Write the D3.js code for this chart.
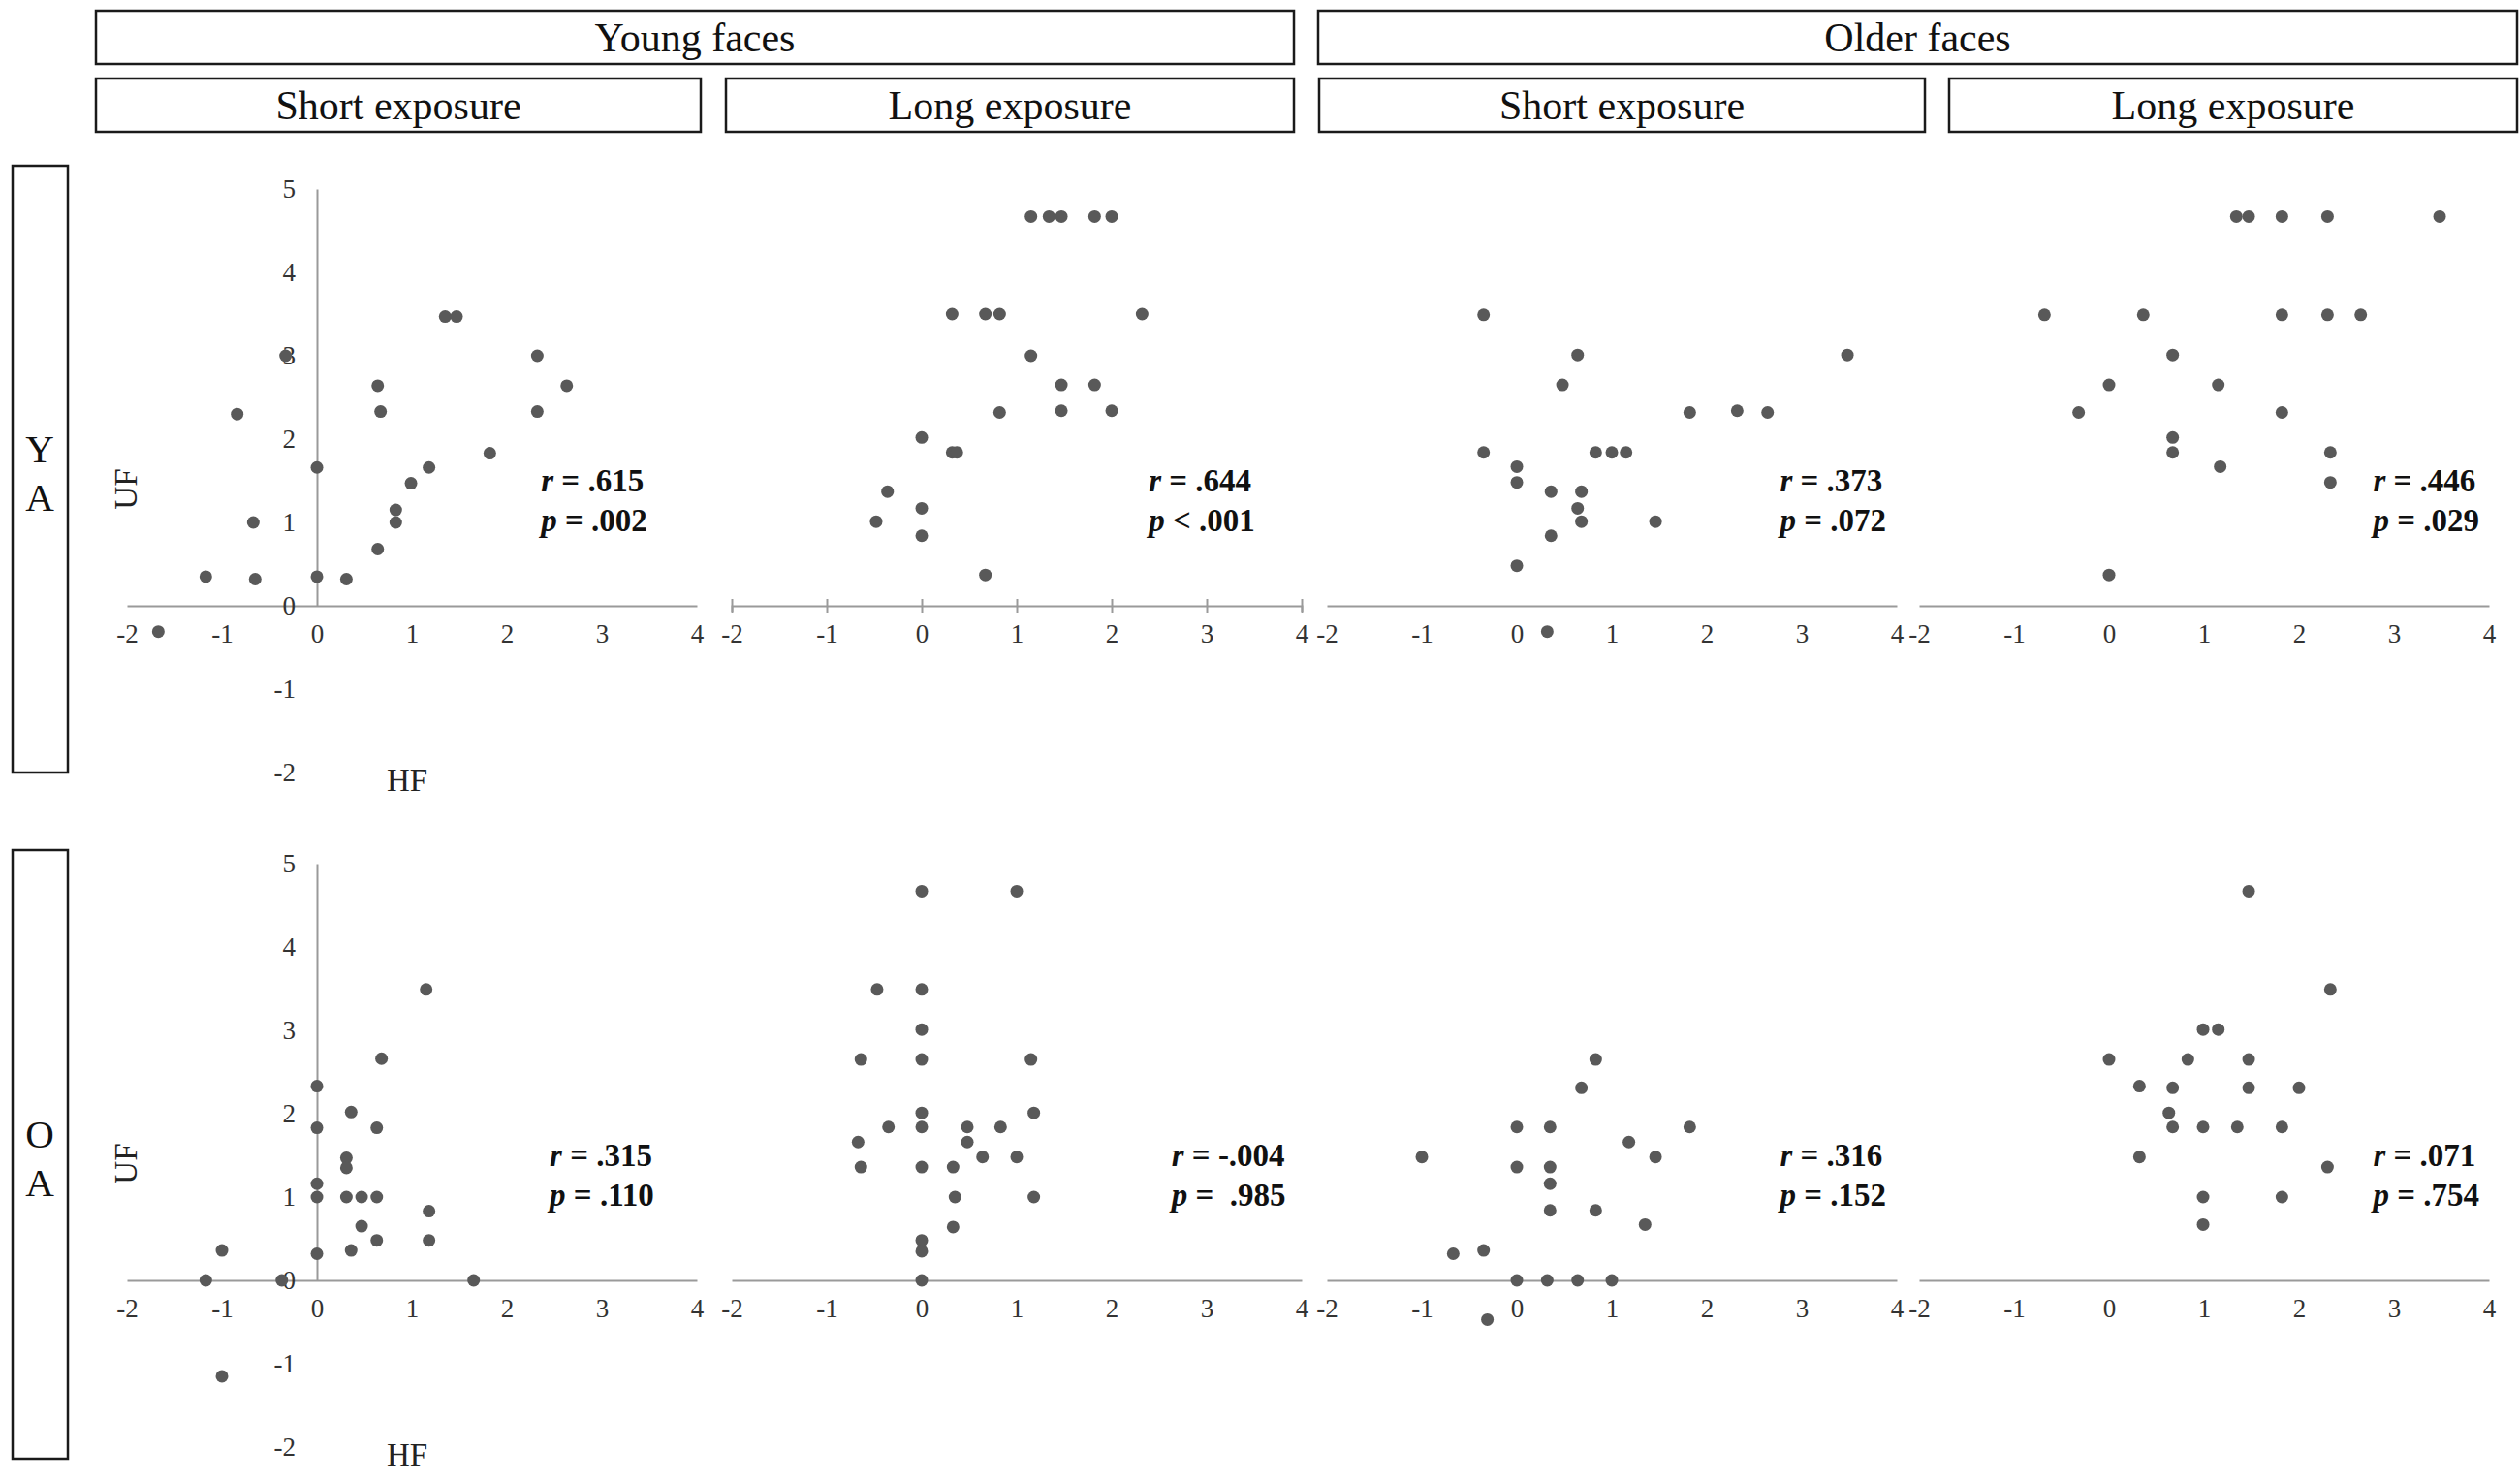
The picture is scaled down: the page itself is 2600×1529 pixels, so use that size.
<!DOCTYPE html>
<html>
<head>
<meta charset="utf-8">
<script src="https://cdn.jsdelivr.net/npm/d3@7"></script>
<style>
    body { margin: 0; background: #fff; }
    svg { display: block; }
</style>
</head>
<body>
<script>
// HF on the x axis, UF on the y axis
const xTicks = [-2, -1, 0, 1, 2, 3, 4];
const yTicks = [-2, -1, 0, 1, 2, 3, 4, 5];
const faceGroups = ["Young faces", "Older faces"];
const exposures = ["Short exposure", "Long exposure", "Short exposure", "Long exposure"];
const ageGroups = [["Y", "A"], ["O", "A"]];

// YA participants
const yaYoungShort = [[-1.67, -0.31], [-1.17, 0.35], [-0.65, 0.32], [-0.67, 1.0], [-0.84, 2.3], [-0.33, 3.0],
    [0, 1.66], [0, 0.35], [0.31, 0.32], [0.64, 0.68], [0.64, 2.64], [0.67, 2.33], [0.83, 1.15], [0.83, 1.0],
    [0.99, 1.47], [1.18, 1.66], [1.35, 3.47], [1.47, 3.47], [1.82, 1.83], [2.32, 3.0], [2.32, 2.33], [2.63, 2.64]];
const yaYoungLong = [[1.15, 4.67], [1.34, 4.67], [1.47, 4.67], [1.82, 4.67], [2.0, 4.67], [0.32, 3.5], [0.67, 3.5],
    [0.82, 3.5], [2.32, 3.5], [1.15, 3.0], [1.47, 2.65], [1.82, 2.65], [0.82, 2.32], [1.47, 2.34], [2.0, 2.34],
    [0, 2.02], [0.32, 1.84], [0.37, 1.84], [-0.36, 1.37], [0, 1.17], [-0.48, 1.01], [0, 0.84], [0.67, 0.37]];
const yaOlderShort = [[-0.35, 3.49], [0.64, 3.01], [0.48, 2.65], [3.48, 3.01], [1.82, 2.32], [2.32, 2.34], [2.64, 2.32],
    [-0.35, 1.84], [0.83, 1.84], [1.0, 1.84], [1.15, 1.84], [0, 1.67], [0, 1.48], [0.36, 1.37], [0.68, 1.37],
    [0.64, 1.17], [0.68, 1.01], [1.46, 1.01], [0.36, 0.84], [0, 0.48], [0.32, -0.31]];
const yaOlderLong = [[1.34, 4.67], [1.47, 4.67], [1.82, 4.67], [2.3, 4.67], [3.48, 4.67], [-0.68, 3.49], [0.36, 3.49],
    [1.82, 3.49], [2.3, 3.49], [2.65, 3.49], [0.67, 3.01], [0, 2.65], [1.15, 2.65], [-0.32, 2.32], [1.82, 2.32],
    [0.67, 2.02], [0.67, 1.84], [2.33, 1.84], [1.17, 1.67], [2.33, 1.48], [0, 0.37]];

// OA participants
const oaYoungShort = [[-1.0, 0.36], [-1.17, 0], [-0.37, 0], [-1.0, -1.15], [0, 2.33], [0, 1.83], [0, 1.16], [0, 1.0],
    [0, 0.32], [0.36, 2.02], [0.31, 1.47], [0.31, 1.35], [0.31, 1.0], [0.47, 1.0], [0.63, 1.0], [0.63, 1.83],
    [0.68, 2.66], [0.47, 0.65], [0.63, 0.48], [0.36, 0.36], [1.15, 3.49], [1.18, 0.83], [1.18, 0.48], [1.65, 0]];
const oaYoungLong = [[0, 4.67], [1.0, 4.67], [-0.47, 3.49], [0, 3.49], [0, 3.01], [-0.64, 2.65], [0, 2.65], [1.15, 2.65],
    [0, 2.01], [1.18, 2.01], [-0.35, 1.84], [0, 1.84], [0.48, 1.84], [0.83, 1.84], [-0.67, 1.66], [0.48, 1.66],
    [0.64, 1.48], [1.0, 1.48], [-0.64, 1.36], [0, 1.36], [0.33, 1.36], [0.35, 1.0], [1.18, 1.0], [0.33, 0.64],
    [0, 0.48], [0, 0.35], [0, 0]];
const oaOlderShort = [[0.83, 2.65], [0.68, 2.31], [0, 1.84], [0.35, 1.84], [1.82, 1.84], [1.18, 1.66], [-1.0, 1.48],
    [1.46, 1.48], [0, 1.36], [0.35, 1.36], [0.35, 1.16], [0.35, 0.84], [0.83, 0.84], [1.35, 0.67], [-0.67, 0.32],
    [-0.35, 0.36], [0, 0], [0.32, 0], [0.64, 0], [1.0, 0], [-0.31, -0.47]];
const oaOlderLong = [[1.47, 4.67], [2.33, 3.49], [0.99, 3.01], [1.15, 3.01], [0, 2.65], [0.83, 2.65], [1.47, 2.65],
    [0.32, 2.33], [0.67, 2.31], [1.47, 2.31], [2.0, 2.31], [0.63, 2.01], [0.67, 1.84], [0.99, 1.84], [1.35, 1.84],
    [1.82, 1.84], [0.32, 1.48], [2.3, 1.36], [0.99, 1.0], [1.82, 1.0], [0.99, 0.67]];

const rValues = [".615", ".644", ".373", ".446", ".315", "-.004", ".316", ".071"];
const pValues = ["= .002", "< .001", "= .072", "= .029", "= .110", "=  .985", "= .152", "= .754"];

const panels = [yaYoungShort, yaYoungLong, yaOlderShort, yaOlderLong,
    oaYoungShort, oaYoungLong, oaOlderShort, oaOlderLong];

// layout
const W = 2600, H = 1529;
const panelLeft = [131, 755, 1369, 1980];
const panelWidth = 588;
const rowAxis = [625, 1321];
const yUnit = 86;
const statX = [2.36, 2.39, 2.77, 2.78, 2.45, 2.63, 2.77, 2.78];
const groupBoxes = [[99, 1335], [1360, 2597]];
const exposureBoxes = [[99, 723], [749, 1335], [1361, 1986], [2011, 2597]];
const rowBoxes = [[171, 797], [877, 1505]];
const serif = "Liberation Serif, Times New Roman, serif";
const axisColor = "#9a9a9a";
const dotColor = "#595959";

const svg = d3.select("body").append("svg")
    .attr("width", W)
    .attr("height", H)
    .style("font-family", serif);

// header boxes
function headerBox(x0, x1, y0, y1, label) {
    svg.append("rect")
        .attr("x", x0).attr("y", y0)
        .attr("width", x1 - x0).attr("height", y1 - y0)
        .attr("fill", "none")
        .attr("stroke", "#1a1a1a")
        .attr("stroke-width", 2.5);
    svg.append("text")
        .attr("x", (x0 + x1) / 2)
        .attr("y", (y0 + y1) / 2 + 14)
        .attr("text-anchor", "middle")
        .attr("font-size", 42)
        .attr("fill", "#111")
        .text(label);
}

groupBoxes.forEach((b, i) => headerBox(b[0], b[1], 11, 66, faceGroups[i]));
exposureBoxes.forEach((b, i) => headerBox(b[0], b[1], 81, 136, exposures[i]));

// row labels
rowBoxes.forEach((b, i) => {
    svg.append("rect")
        .attr("x", 13).attr("y", b[0])
        .attr("width", 57).attr("height", b[1] - b[0])
        .attr("fill", "none")
        .attr("stroke", "#1a1a1a")
        .attr("stroke-width", 2.5);
    const mid = (b[0] + b[1]) / 2;
    ageGroups[i].forEach((letter, j) => {
        svg.append("text")
            .attr("x", 41)
            .attr("y", mid - 7 + j * 50)
            .attr("text-anchor", "middle")
            .attr("font-size", 41)
            .attr("fill", "#111")
            .text(letter);
    });
});

panels.forEach((pts, i) => {
    const row = Math.floor(i / 4), col = i % 4;
    const x = d3.scaleLinear().domain([-2, 4]).range([panelLeft[col], panelLeft[col] + panelWidth]);
    const y = d3.scaleLinear().domain([0, 5]).range([rowAxis[row], rowAxis[row] - 5 * yUnit]);
    const g = svg.append("g").attr("class", "panel");
    const hasTicks = (i === 1);

    // x axis
    const xAxis = g.append("g")
        .attr("transform", `translate(0,${y(0)})`)
        .call(d3.axisBottom(x)
            .tickValues(xTicks)
            .tickFormat(d => String(d))
            .tickSizeOuter(0)
            .tickSize(hasTicks ? 6 : 0)
            .tickPadding(hasTicks ? 13 : 19))
        .attr("font-family", serif)
        .attr("font-size", 27);
    xAxis.select(".domain").attr("stroke", axisColor).attr("stroke-width", 2);
    xAxis.selectAll(".tick line").attr("stroke", axisColor).attr("stroke-width", 2)
        .attr("y1", hasTicks ? -7 : 0).attr("y2", hasTicks ? 7 : 0);
    xAxis.selectAll(".tick text").attr("fill", "#333");

    // y axis only on the first column
    if (col === 0) {
        const yAxis = g.append("g")
            .attr("transform", `translate(${x(0)},0)`)
            .call(d3.axisLeft(y)
                .tickValues(yTicks)
                .tickFormat(d => String(d))
                .tickSizeOuter(0)
                .tickSize(0)
                .tickPadding(22))
            .attr("font-family", serif)
            .attr("font-size", 27);
        yAxis.select(".domain").attr("stroke", axisColor).attr("stroke-width", 2);
        yAxis.selectAll(".tick text").attr("fill", "#333");

        g.append("text")
            .attr("x", x(0.95))
            .attr("y", y(-2) + 19)
            .attr("text-anchor", "middle")
            .attr("font-size", 33)
            .attr("fill", "#222")
            .text("HF");
        g.append("text")
            .attr("transform", `translate(${x(-2) + 10},${y(1.4)}) rotate(-90)`)
            .attr("text-anchor", "middle")
            .attr("font-size", 33)
            .attr("fill", "#222")
            .text("UF");
    }

    g.selectAll("circle")
        .data(pts)
        .enter()
        .append("circle")
        .attr("cx", d => x(d[0]))
        .attr("cy", d => y(d[1]))
        .attr("r", 6.5)
        .attr("fill", dotColor);

    // correlation statistics
    const rText = g.append("text")
        .attr("x", x(statX[i]))
        .attr("y", y(1.37))
        .attr("font-size", 33)
        .attr("font-weight", "bold")
        .attr("fill", "#111")
        .style("white-space", "pre");
    rText.append("tspan").attr("font-style", "italic").text("r");
    rText.append("tspan").text(" = " + rValues[i]);

    const pText = g.append("text")
        .attr("x", x(statX[i]))
        .attr("y", y(0.9))
        .attr("font-size", 33)
        .attr("font-weight", "bold")
        .attr("fill", "#111")
        .style("white-space", "pre");
    pText.append("tspan").attr("font-style", "italic").text("p");
    pText.append("tspan").text(" " + pValues[i]);
});
</script>
</body>
</html>
